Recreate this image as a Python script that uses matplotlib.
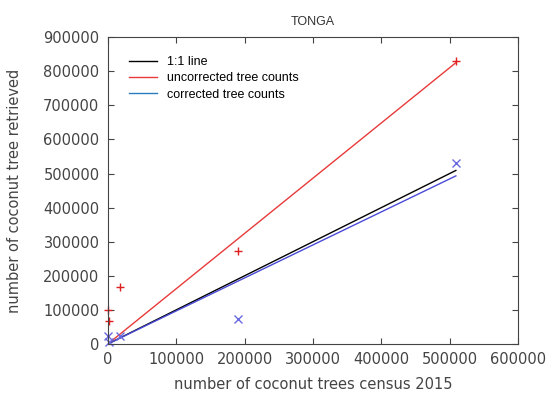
import matplotlib.pyplot as plt
from matplotlib.lines import Line2D

# census counts vs retrieved counts per island group
census = [1000, 1500, 17500, 190000, 509000]
uncorrected = [100000, 67000, 167000, 272000, 830000]
corrected = [23500, 5000, 23500, 73000, 532000]

# fitted lines
line_x = [0, 509000]
one_to_one = [0, 509000]
uncorr_fit = [0, 825000]
corr_fit = [0, 493000]

fig = plt.figure(figsize=(5.5, 3.98), dpi=100)
ax = fig.add_axes([0.196, 0.1357, 0.746, 0.771])

ax.plot(line_x, one_to_one, color="black", lw=1)
ax.plot(line_x, uncorr_fit, color="#e83a3a", lw=1)
ax.plot(line_x, corr_fit, color="#4a4ad8", lw=1)
ax.plot(census, uncorrected, "+", color="#e02020", ms=6, mew=1, clip_on=False)
ax.plot(census, corrected, "x", color="#6a6ae0", ms=6, mew=1, clip_on=False)

ax.set_xlim(0, 600000)
ax.set_ylim(0, 900000)
ax.set_xticks(range(0, 600001, 100000))
ax.set_yticks(range(0, 900001, 100000))
ax.tick_params(direction="in", top=True, right=True, length=4, labelsize=10.5,
               labelcolor="#444444", color="#444444", pad=6)
for s in ax.spines.values():
    s.set_color("#444444")

ax.set_xlabel("number of coconut trees census 2015", fontsize=10.5, color="#444444",
              labelpad=7)
ax.set_ylabel("number of coconut tree retrieved", fontsize=10.5, color="#444444",
              labelpad=15)
ax.set_title("TONGA", fontsize=9, family="Liberation Sans", color="#333333", pad=9)

handles = [Line2D([], [], color="black", lw=1),
           Line2D([], [], color="#e83a3a", lw=1),
           Line2D([], [], color="#2b7bbf", lw=1)]
ax.legend(handles, ["1:1 line", "uncorrected tree counts", "corrected tree counts"],
          loc="upper left", frameon=False, prop={"family": "Liberation Sans", "size": 9},
          handlelength=2.2, bbox_to_anchor=(0.025, 0.975), labelspacing=0.35)

fig.savefig("out.png")
